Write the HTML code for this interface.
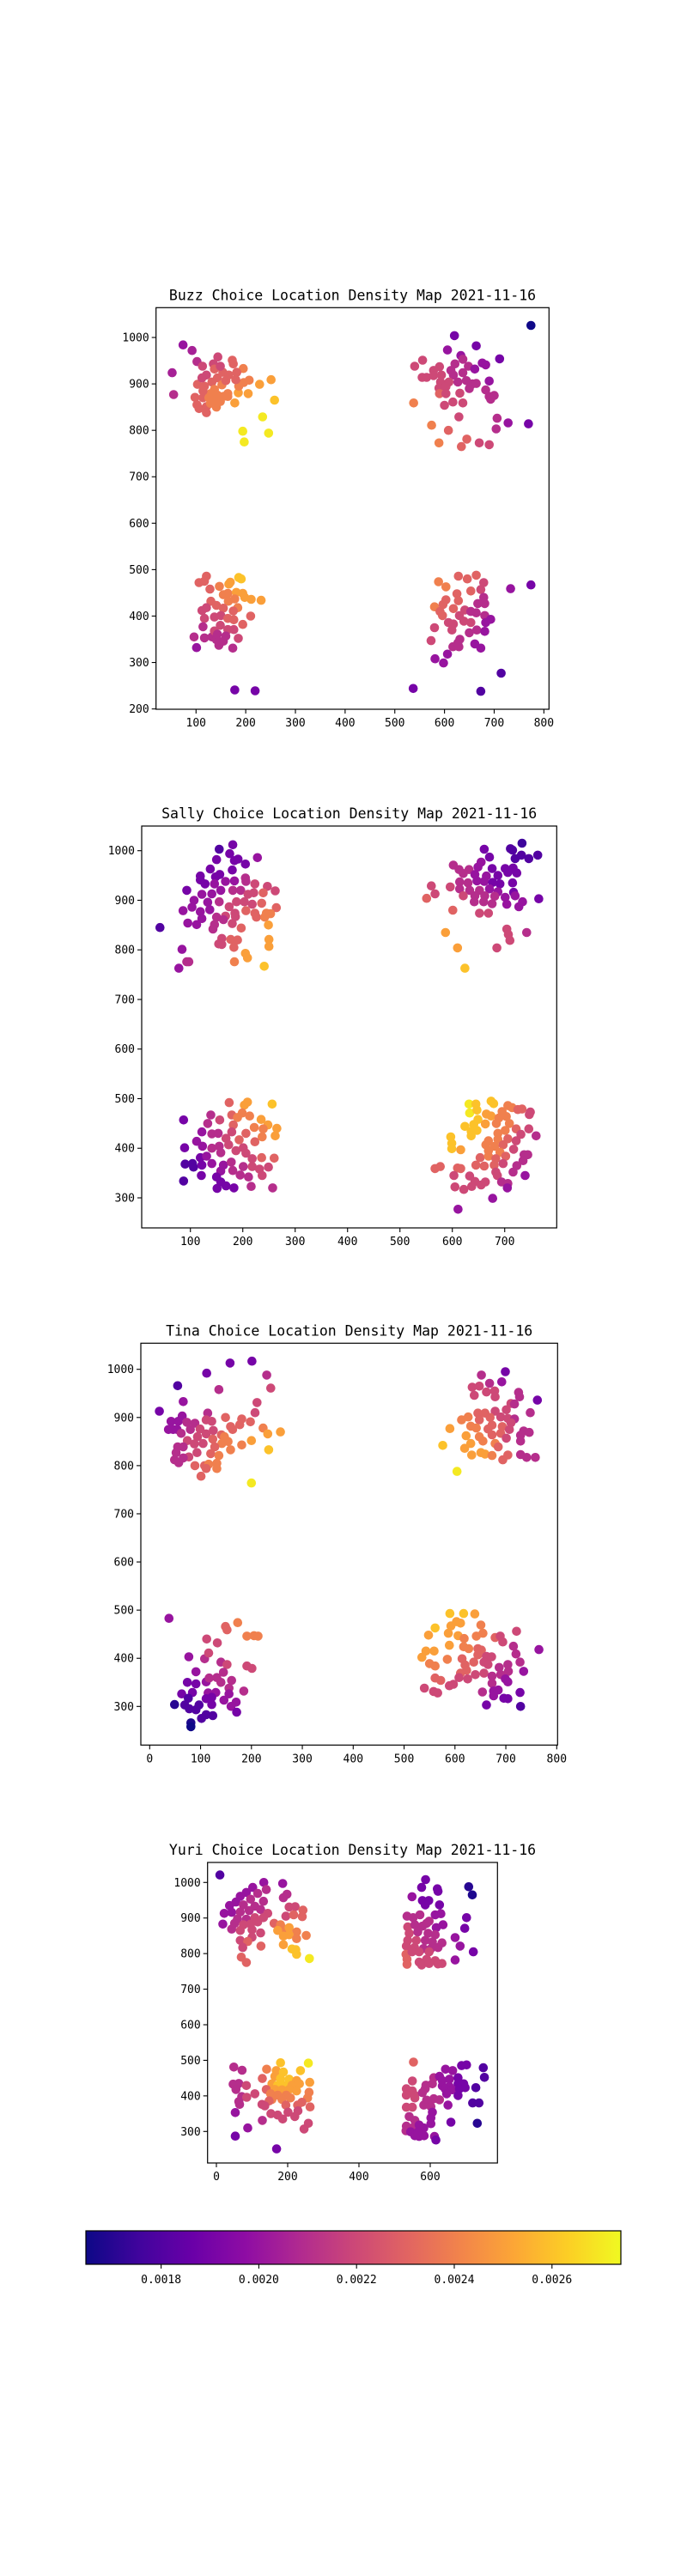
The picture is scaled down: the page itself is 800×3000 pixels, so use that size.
<!DOCTYPE html>
<html><head><meta charset="utf-8"><title>Choice Location Density Maps</title>
<style>
html,body{margin:0;padding:0;background:#fff;}
svg{display:block;font-family:"DejaVu Sans Mono","Liberation Mono",monospace;}
</style></head>
<body>
<svg id="fig" width="800" height="3000" viewBox="0 0 800 3000" xmlns="http://www.w3.org/2000/svg">
<defs>
<linearGradient id="plasma" x1="0" x2="1" y1="0" y2="0">
<stop offset="0" stop-color="#0d0887"/><stop offset="0.1" stop-color="#41049d"/><stop offset="0.2" stop-color="#6a00a8"/><stop offset="0.3" stop-color="#8f0da4"/><stop offset="0.4" stop-color="#b12a90"/><stop offset="0.5" stop-color="#cc4778"/><stop offset="0.6" stop-color="#e16462"/><stop offset="0.7" stop-color="#f2844b"/><stop offset="0.8" stop-color="#fca636"/><stop offset="0.9" stop-color="#fcce25"/><stop offset="1" stop-color="#f0f921"/>
</linearGradient>
</defs>
</svg>
<script>
// ---- data: [x, y, density] ----
const buzzPoints = [
[74,984,0.00200],[92,972,0.00205],[52,924,0.00205],[55,877,0.0021],[102,948,0.0021],[113,938,0.0022],[144,958,0.0022],[173,951,0.0023],[175,943,0.0023],[135,943,0.0022],[195,933,0.0024],[182,925,0.0023],[121,919,0.0022],[103,899,0.0023],[98,871,0.0023],[102,855,0.0023],[106,847,0.0023],[121,851,0.0023],[121,838,0.0023],[141,850,0.0024],[149,862,0.0024],[178,859,0.0025],[164,879,0.0024],[185,881,0.0025],[205,879,0.0025],[186,895,0.0024],[196,903,0.0024],[207,908,0.0024],[228,899,0.0025],[251,909,0.0025],[258,865,0.0026],[234,829,0.0027],[194,798,0.0027],[246,794,0.0027],[197,775,0.0027],[180,909,0.0023],
[117,895,0.0023],[132,904,0.0023],[143,913,0.0023],[154,925,0.0023],[137,888,0.0024],[152,898,0.0024],[129,879,0.0024],[160,907,0.0023],[166,919,0.0023],[143,876,0.0024],[114,870,0.0023],[126,870,0.0024],[155,873,0.0024],[137,932,0.0023],[149,938,0.0022],[112,913,0.0022],[164,873,0.0024],[135,864,0.0024],[114,885,0.0023],[129,858,0.0024],
[121,486,0.0023],[106,472,0.0023],[117,475,0.0023],[128,458,0.0023],[147,464,0.0024],[166,469,0.0025],[169,473,0.0025],[186,483,0.0026],[191,480,0.0026],[155,446,0.0024],[164,449,0.0024],[181,451,0.0025],[194,449,0.0025],[198,440,0.0025],[211,436,0.0025],[231,434,0.0025],[130,432,0.0023],[141,423,0.0023],[165,432,0.0024],[178,437,0.0024],[184,418,0.0024],[112,412,0.0022],[121,418,0.0022],[155,417,0.0023],[175,411,0.0023],[210,400,0.0023],[117,395,0.0022],[137,398,0.0022],[150,401,0.0022],[164,395,0.0023],[176,392,0.0023],[114,377,0.0021],[149,380,0.0022],[194,382,0.0023],[164,371,0.0022],[176,371,0.0022],[96,355,0.0021],[117,353,0.0021],[132,355,0.0021],[141,349,0.0021],[155,346,0.0021],[185,352,0.0022],[101,332,0.0020],[146,337,0.0021],[174,331,0.0021],[137,368,0.0022],[143,361,0.0021],[178,241,0.0019],[219,239,0.0019],[160,357,0.0021],
[774,1026,0.00165],[620,1004,0.0019],[664,982,0.0019],[606,973,0.0020],[711,954,0.0019],[633,961,0.0020],[556,951,0.0022],[540,938,0.0022],[590,937,0.0022],[621,943,0.0021],[676,945,0.0020],[683,941,0.0020],[648,938,0.0021],[637,953,0.0021],[661,932,0.0020],[578,929,0.0022],[613,929,0.0021],[555,914,0.0022],[564,914,0.0022],[578,918,0.0022],[594,919,0.0022],[637,924,0.0021],[618,919,0.0021],[592,904,0.0022],[609,904,0.0022],[627,904,0.0021],[644,907,0.0021],[656,900,0.0021],[664,901,0.0021],[690,906,0.0020],[650,890,0.0021],[589,891,0.0022],[603,894,0.0022],[683,887,0.0021],[590,879,0.0023],[603,879,0.0022],[631,880,0.0022],[690,873,0.0021],[700,875,0.0021],[693,867,0.0021],[538,859,0.0024],[600,854,0.0022],[617,861,0.0022],[637,859,0.0022],[629,829,0.0022],[706,826,0.0021],[728,816,0.0020],[769,814,0.0019],[704,803,0.0021],[574,811,0.0024],[608,800,0.0023],[645,781,0.0023],[589,773,0.0024],[634,765,0.0023],[670,773,0.0022],[690,769,0.0022],
[774,467,0.0019],[733,459,0.0020],[628,486,0.0023],[664,488,0.0023],[646,480,0.0023],[588,474,0.0024],[679,472,0.0022],[603,463,0.0024],[673,457,0.0022],[653,454,0.0023],[625,448,0.0023],[679,440,0.0021],[603,435,0.0023],[628,433,0.0023],[580,420,0.0024],[597,425,0.0023],[667,427,0.0021],[681,427,0.0021],[591,410,0.0023],[618,416,0.0023],[641,413,0.0022],[653,410,0.0021],[596,401,0.0023],[630,401,0.0022],[664,407,0.0021],[681,401,0.0021],[693,393,0.0020],[608,386,0.0022],[618,383,0.0022],[639,389,0.0022],[653,386,0.0022],[683,386,0.0020],[580,375,0.0022],[615,370,0.0022],[650,364,0.0021],[665,370,0.0021],[681,367,0.0020],[573,347,0.0022],[631,350,0.0021],[617,334,0.0021],[629,334,0.0021],[661,340,0.0020],[673,331,0.0020],[581,308,0.0020],[606,318,0.0020],[598,299,0.0020],[714,277,0.0018],[673,238,0.0018],[537,244,0.0019],[627,342,0.0021]
];
const sallyPoints = [
[42,845,0.0018],[155,1003,0.0018],[181,1012,0.0019],[175,994,0.0019],[150,982,0.0019],[184,980,0.0019],[191,983,0.0019],[228,986,0.0020],[205,973,0.0019],[138,963,0.0019],[180,961,0.0019],[119,949,0.0019],[119,941,0.0019],[148,947,0.0019],[156,952,0.0019],[128,933,0.0019],[93,920,0.0019],[146,933,0.0020],[167,938,0.0020],[184,939,0.0020],[205,945,0.0021],[206,938,0.0021],[223,933,0.0022],[247,928,0.0022],[262,919,0.0022],[122,912,0.0020],[141,913,0.0020],[158,920,0.0020],[181,920,0.0021],[196,920,0.0021],[210,912,0.0022],[221,915,0.0022],[239,915,0.0023],[107,900,0.0020],[103,886,0.0020],[86,879,0.0020],[133,896,0.0020],[155,897,0.0021],[174,887,0.0022],[188,897,0.0022],[203,897,0.0022],[218,892,0.0022],[236,894,0.0023],[264,885,0.0023],[119,877,0.0020],[137,881,0.0020],[185,874,0.0022],[206,879,0.0023],[223,874,0.0023],[245,874,0.0024],[253,873,0.0024],[122,863,0.0020],[150,866,0.0021],[167,868,0.0022],[186,867,0.0022],[226,866,0.0023],[242,866,0.0024],[95,854,0.0020],[112,851,0.0020],[146,851,0.0021],[163,861,0.0021],[180,853,0.0022],[249,850,0.0025],[197,844,0.0023],[143,842,0.0021],[160,823,0.0022],[154,812,0.0022],[160,811,0.0022],[177,821,0.0023],[190,820,0.0023],[183,805,0.0023],[250,821,0.0025],[250,807,0.0025],[205,793,0.0025],[209,784,0.0025],[184,776,0.0024],[241,767,0.0026],[84,801,0.0020],[93,776,0.0021],[97,776,0.0021],[78,763,0.0020],
[209,493,0.0025],[174,492,0.0023],[203,487,0.0025],[256,489,0.0026],[199,471,0.0024],[213,465,0.0024],[179,467,0.0023],[139,467,0.0021],[87,457,0.0019],[156,457,0.0022],[190,462,0.0024],[133,450,0.0021],[182,447,0.0023],[235,458,0.0025],[248,447,0.0025],[222,442,0.0024],[239,439,0.0024],[265,440,0.0025],[122,433,0.0020],[141,429,0.0021],[153,430,0.0021],[179,433,0.0022],[206,430,0.0023],[262,425,0.0025],[237,423,0.0024],[112,414,0.0020],[168,420,0.0022],[193,417,0.0023],[223,413,0.0023],[89,401,0.0019],[123,404,0.0020],[141,400,0.0021],[155,404,0.0021],[173,407,0.0022],[201,401,0.0022],[187,395,0.0022],[158,391,0.0021],[206,390,0.0022],[218,379,0.0022],[236,381,0.0023],[260,380,0.0023],[119,381,0.0019],[131,384,0.0020],[90,368,0.0018],[104,369,0.0018],[106,362,0.0018],[122,366,0.0019],[141,369,0.0020],[163,366,0.0020],[178,372,0.0021],[201,363,0.0021],[218,363,0.0022],[232,358,0.0022],[249,362,0.0022],[158,354,0.0020],[181,355,0.0021],[121,345,0.0019],[150,342,0.0019],[195,346,0.0021],[211,342,0.0021],[237,345,0.0022],[87,334,0.0018],[158,332,0.0019],[168,324,0.0019],[151,319,0.0019],[183,320,0.0019],[216,323,0.0021],[257,320,0.0021],
[733,1015,0.00175],[711,1004,0.0018],[715,1001,0.0018],[661,1003,0.0019],[763,991,0.0018],[732,991,0.0018],[720,984,0.0018],[746,984,0.0018],[671,987,0.0019],[655,977,0.0020],[602,971,0.0021],[613,962,0.0021],[632,962,0.0021],[649,967,0.0020],[676,964,0.0019],[701,964,0.0019],[716,965,0.0019],[723,955,0.0019],[621,954,0.0021],[643,952,0.0020],[665,949,0.0020],[687,950,0.0019],[706,956,0.0019],[560,929,0.0022],[596,927,0.0022],[614,937,0.0021],[630,935,0.0021],[647,939,0.0020],[661,938,0.0020],[677,936,0.0019],[691,933,0.0019],[715,935,0.0019],[614,923,0.0021],[633,920,0.0021],[652,920,0.0021],[671,923,0.0020],[687,917,0.0020],[717,916,0.0019],[567,913,0.0022],[551,904,0.0023],[621,909,0.0022],[643,909,0.0021],[662,909,0.0021],[681,908,0.0021],[701,906,0.0020],[720,909,0.0020],[765,903,0.0019],[642,897,0.0021],[660,897,0.0021],[676,893,0.0021],[704,892,0.0020],[734,897,0.0020],[601,880,0.0023],[652,874,0.0022],[669,874,0.0022],[727,887,0.0020],[587,835,0.0025],[704,842,0.0022],[707,831,0.0022],[710,819,0.0022],[742,835,0.0021],[610,804,0.0025],[685,804,0.0022],[624,763,0.0026],
[632,489,0.0027],[645,489,0.0026],[674,495,0.0026],[679,490,0.0026],[706,486,0.0024],[714,482,0.0024],[725,478,0.0023],[733,479,0.0023],[749,473,0.0022],[747,468,0.0022],[633,471,0.0027],[647,477,0.0026],[665,469,0.0025],[674,465,0.0025],[695,474,0.0024],[689,461,0.0024],[703,464,0.0024],[649,458,0.0026],[624,444,0.0026],[641,448,0.0026],[663,449,0.0025],[684,450,0.0024],[709,450,0.0024],[722,439,0.0023],[746,439,0.0022],[636,434,0.0026],[647,436,0.0026],[687,430,0.0024],[701,436,0.0024],[731,428,0.0022],[760,425,0.0021],[597,423,0.0026],[636,425,0.0026],[669,415,0.0024],[687,418,0.0024],[706,419,0.0023],[722,415,0.0022],[599,410,0.0026],[664,407,0.0024],[681,404,0.0024],[697,407,0.0023],[599,399,0.0026],[616,397,0.0025],[669,395,0.0024],[691,392,0.0024],[717,398,0.0022],[653,381,0.0023],[669,384,0.0024],[683,379,0.0023],[702,384,0.0023],[737,387,0.0021],[744,387,0.0021],[645,366,0.0023],[661,364,0.0023],[680,366,0.0023],[697,369,0.0022],[723,365,0.0021],[735,375,0.0021],[567,359,0.0023],[577,363,0.0023],[610,360,0.0023],[616,359,0.0023],[683,352,0.0022],[686,345,0.0022],[716,352,0.0021],[739,345,0.0020],[603,345,0.0022],[633,344,0.0022],[643,333,0.0022],[655,326,0.0022],[663,332,0.0022],[694,332,0.0021],[706,329,0.0021],[705,320,0.0020],[605,322,0.0022],[622,317,0.0022],[637,323,0.0022],[677,299,0.0020],[611,277,0.0020]
];
const tinaPoints = [
[19,913,0.0019],[55,966,0.0018],[112,992,0.0019],[158,1013,0.0019],[201,1017,0.0019],[230,988,0.0021],[238,961,0.0022],[136,958,0.0021],[66,933,0.0020],[211,931,0.0022],[207,910,0.0022],[114,909,0.0021],[64,903,0.0020],[42,892,0.0020],[56,892,0.0020],[37,875,0.0020],[46,875,0.0020],[54,875,0.0020],[73,890,0.0021],[89,888,0.0021],[111,895,0.0022],[122,892,0.0022],[149,900,0.0023],[181,897,0.0023],[198,891,0.0023],[177,885,0.0023],[159,881,0.0023],[163,875,0.0023],[223,878,0.0024],[232,866,0.0025],[257,870,0.0025],[62,867,0.0021],[80,875,0.0021],[99,876,0.0022],[125,873,0.0022],[141,864,0.0023],[147,860,0.0024],[74,852,0.0022],[94,860,0.0022],[111,866,0.0022],[124,855,0.0023],[154,850,0.0024],[142,846,0.0024],[181,843,0.0024],[200,852,0.0025],[55,839,0.0021],[66,839,0.0021],[88,845,0.0022],[105,846,0.0022],[128,839,0.0023],[159,833,0.0024],[234,833,0.0026],[52,827,0.0021],[77,818,0.0022],[93,827,0.0022],[120,825,0.0023],[136,821,0.0024],[49,812,0.0021],[57,806,0.0021],[66,816,0.0021],[132,805,0.0024],[89,800,0.0023],[108,800,0.0023],[116,803,0.0024],[132,794,0.0024],[111,794,0.0023],[101,778,0.0023],[200,764,0.0027],
[38,483,0.0020],[173,474,0.0024],[149,466,0.0023],[152,459,0.0023],[191,446,0.0024],[205,447,0.0024],[213,446,0.0024],[112,440,0.0022],[133,432,0.0022],[77,403,0.0020],[108,399,0.0021],[116,411,0.0022],[140,392,0.0021],[152,387,0.0022],[191,384,0.0022],[201,379,0.0022],[91,372,0.0020],[145,371,0.0021],[74,350,0.0019],[91,347,0.0019],[111,351,0.0020],[117,359,0.0021],[132,360,0.0021],[140,350,0.0021],[161,354,0.0021],[63,326,0.0019],[84,329,0.0019],[115,328,0.0020],[130,329,0.0020],[156,338,0.0021],[185,332,0.0021],[76,317,0.0018],[111,316,0.0019],[122,319,0.0019],[146,313,0.0020],[156,326,0.0020],[170,309,0.0020],[49,304,0.0017],[69,303,0.0018],[78,295,0.0018],[91,293,0.0018],[97,303,0.0018],[122,304,0.0019],[160,300,0.0020],[171,288,0.0019],[102,275,0.0018],[111,283,0.0018],[124,281,0.0018],[81,266,0.00168],[81,258,0.00165],
[699,995,0.0019],[652,988,0.0021],[692,974,0.0020],[668,971,0.0021],[634,963,0.0022],[648,965,0.0022],[638,946,0.0022],[662,953,0.0022],[678,955,0.0022],[679,943,0.0022],[725,952,0.0021],[727,943,0.0021],[762,936,0.0019],[710,929,0.0022],[717,928,0.0021],[748,910,0.0021],[645,909,0.0023],[659,909,0.0023],[679,913,0.0022],[701,916,0.0022],[613,895,0.0024],[626,901,0.0024],[648,895,0.0023],[669,900,0.0023],[690,901,0.0022],[704,898,0.0022],[717,897,0.0021],[710,889,0.0022],[590,877,0.0025],[631,882,0.0024],[642,878,0.0024],[665,876,0.0023],[673,884,0.0023],[693,881,0.0023],[707,875,0.0022],[735,872,0.0021],[746,869,0.0021],[622,862,0.0025],[648,860,0.0024],[673,864,0.0023],[690,867,0.0023],[701,857,0.0022],[729,863,0.0021],[729,851,0.0021],[576,842,0.0026],[631,846,0.0025],[655,851,0.0024],[679,846,0.0024],[685,839,0.0023],[619,836,0.0025],[651,827,0.0025],[659,824,0.0025],[673,821,0.0024],[633,822,0.0025],[704,822,0.0023],[729,823,0.0021],[741,817,0.0021],[758,817,0.0021],[694,812,0.0023],[604,788,0.0027],
[590,493,0.0026],[617,493,0.0026],[639,492,0.0025],[603,476,0.0025],[611,473,0.0025],[651,469,0.0024],[592,467,0.0025],[561,463,0.0026],[721,456,0.0022],[548,448,0.0025],[587,452,0.0025],[606,447,0.0025],[618,441,0.0024],[642,446,0.0024],[655,452,0.0024],[679,443,0.0023],[689,446,0.0022],[694,434,0.0022],[765,418,0.0020],[715,425,0.0021],[589,427,0.0025],[617,424,0.0024],[627,420,0.0024],[645,420,0.0023],[652,417,0.0023],[543,415,0.0025],[559,415,0.0025],[720,409,0.0021],[535,402,0.0025],[585,398,0.0024],[614,399,0.0023],[645,407,0.0023],[662,404,0.0022],[672,403,0.0022],[728,392,0.0021],[550,389,0.0024],[561,384,0.0024],[620,386,0.0023],[637,392,0.0023],[657,392,0.0022],[665,387,0.0022],[704,387,0.0021],[623,375,0.0023],[687,381,0.0021],[705,373,0.0021],[735,373,0.0020],[611,369,0.0023],[640,366,0.0022],[657,369,0.0022],[673,363,0.0021],[690,366,0.0021],[561,359,0.0023],[572,354,0.0023],[608,360,0.0022],[625,357,0.0022],[699,357,0.0020],[704,351,0.0020],[673,348,0.0021],[540,338,0.0022],[589,343,0.0022],[597,346,0.0022],[558,331,0.0022],[566,328,0.0022],[654,330,0.0021],[676,332,0.0020],[685,334,0.0020],[728,329,0.0019],[676,322,0.0020],[696,317,0.0019],[704,316,0.0019],[662,303,0.0019],[729,300,0.0018]
];
const yuriPoints = [
[10,1021,0.0018],[133,1000,0.0020],[186,997,0.0020],[102,986,0.0020],[140,980,0.0021],[84,972,0.0020],[116,969,0.0021],[67,961,0.0020],[198,967,0.0021],[188,957,0.0021],[96,953,0.0021],[132,947,0.0021],[55,945,0.0020],[37,935,0.0020],[76,937,0.0021],[108,933,0.0021],[204,931,0.0022],[221,932,0.0022],[243,922,0.0023],[22,913,0.0020],[43,916,0.0020],[67,917,0.0021],[92,921,0.0021],[124,924,0.0021],[144,913,0.0022],[195,905,0.0022],[217,909,0.0023],[241,904,0.0023],[59,897,0.0021],[84,897,0.0021],[108,901,0.0022],[132,901,0.0022],[18,883,0.0020],[51,885,0.0021],[76,881,0.0022],[96,883,0.0022],[162,885,0.0023],[116,889,0.0022],[180,881,0.0024],[43,869,0.0021],[67,865,0.0022],[100,867,0.0022],[188,869,0.0024],[204,873,0.0025],[225,861,0.0024],[204,853,0.0025],[188,849,0.0025],[252,851,0.0024],[100,846,0.0022],[124,858,0.0022],[225,842,0.0024],[67,837,0.0022],[88,834,0.0023],[74,817,0.0022],[125,821,0.0023],[188,825,0.0025],[212,813,0.0026],[223,811,0.0026],[225,798,0.0026],[70,790,0.0023],[84,775,0.0023],[261,786,0.0027],[172,865,0.0025],
[180,493,0.0026],[258,492,0.0027],[49,481,0.0021],[72,472,0.0021],[141,475,0.0024],[168,471,0.0025],[188,467,0.0026],[236,471,0.0026],[129,449,0.0023],[164,455,0.0025],[180,449,0.0026],[204,447,0.0026],[225,443,0.0025],[47,433,0.0021],[63,435,0.0021],[84,429,0.0022],[156,434,0.0025],[172,430,0.0026],[188,430,0.0026],[212,430,0.0025],[233,434,0.0025],[262,438,0.0025],[55,418,0.0021],[140,418,0.0023],[164,418,0.0025],[184,417,0.0025],[204,418,0.0025],[225,414,0.0025],[108,406,0.0022],[152,406,0.0024],[172,402,0.0024],[196,402,0.0024],[260,410,0.0024],[71,398,0.0021],[85,396,0.0022],[156,390,0.0024],[184,390,0.0024],[208,394,0.0024],[256,394,0.0024],[63,384,0.0021],[148,386,0.0023],[195,374,0.0023],[240,382,0.0023],[65,376,0.0021],[128,376,0.0022],[136,372,0.0022],[228,374,0.0023],[263,369,0.0023],[201,354,0.0022],[229,358,0.0022],[53,353,0.0020],[153,350,0.0022],[172,346,0.0022],[186,335,0.0022],[220,342,0.0022],[129,331,0.0021],[258,323,0.0022],[246,307,0.0022],[88,310,0.0020],[53,287,0.0019],[169,251,0.0019],
[587,1008,0.0019],[708,988,0.0017],[718,965,0.00168],[576,986,0.0019],[620,982,0.0019],[622,975,0.0019],[549,960,0.0020],[578,949,0.0019],[596,949,0.0019],[586,937,0.0019],[626,937,0.0019],[630,912,0.0020],[614,909,0.0020],[702,901,0.0019],[535,905,0.0021],[552,901,0.0021],[571,909,0.0021],[597,891,0.0021],[636,881,0.0020],[617,873,0.0020],[697,871,0.0019],[537,875,0.0022],[557,881,0.0021],[578,877,0.0021],[590,885,0.0021],[670,845,0.0020],[541,857,0.0022],[565,861,0.0021],[594,857,0.0021],[614,853,0.0021],[684,821,0.0020],[537,837,0.0022],[561,837,0.0022],[586,837,0.0021],[606,833,0.0021],[633,830,0.0021],[721,805,0.0019],[533,821,0.0022],[556,817,0.0022],[581,814,0.0021],[601,813,0.0021],[622,817,0.0021],[532,798,0.0023],[549,805,0.0022],[569,805,0.0022],[597,805,0.0022],[670,782,0.0020],[535,784,0.0023],[569,776,0.0022],[590,784,0.0022],[614,780,0.0022],[633,772,0.0022],[535,770,0.0023],[576,768,0.0022],[597,772,0.0022],[622,771,0.0022],
[553,495,0.0023],[688,485,0.0019],[702,487,0.0019],[749,479,0.0018],[752,452,0.0018],[643,475,0.0020],[663,471,0.0020],[610,451,0.0021],[550,442,0.0022],[626,455,0.0020],[634,443,0.0020],[654,447,0.0020],[678,451,0.0019],[588,430,0.0021],[606,434,0.0021],[634,428,0.0020],[654,426,0.0020],[678,434,0.0019],[694,434,0.0019],[533,420,0.0022],[550,414,0.0022],[586,420,0.0021],[642,420,0.0020],[662,417,0.0020],[682,420,0.0019],[698,423,0.0019],[728,423,0.0018],[533,402,0.0022],[557,401,0.0022],[578,409,0.0021],[646,406,0.0020],[678,401,0.0019],[557,394,0.0022],[590,388,0.0021],[610,392,0.0021],[626,389,0.0021],[719,380,0.0018],[737,380,0.0018],[582,374,0.0021],[602,370,0.0021],[650,374,0.0020],[533,368,0.0022],[550,368,0.0022],[606,354,0.0020],[541,342,0.0021],[557,331,0.0021],[602,338,0.0020],[658,326,0.0019],[732,323,0.0017],[602,322,0.0020],[533,315,0.0021],[550,310,0.0021],[569,318,0.0020],[582,310,0.0020],[532,302,0.0021],[545,299,0.0020],[557,288,0.0020],[569,286,0.0020],[583,288,0.0020],[565,298,0.0020],[612,286,0.0020],[616,276,0.0019]
];
const plotTitles = ["Buzz Choice Location Density Map 2021-11-16","Sally Choice Location Density Map 2021-11-16","Tina Choice Location Density Map 2021-11-16","Yuri Choice Location Density Map 2021-11-16"];
const buzzXTicks = [100,200,300,400,500,600,700,800];
const buzzYTicks = [200,300,400,500,600,700,800,900,1000];
const sallyXTicks = [100,200,300,400,500,600,700];
const sallyYTicks = [300,400,500,600,700,800,900,1000];
const tinaXTicks = [0,100,200,300,400,500,600,700,800];
const tinaYTicks = [300,400,500,600,700,800,900,1000];
const yuriXTicks = [0,200,400,600];
const yuriYTicks = [300,400,500,600,700,800,900,1000];
const colorbarTicks = [0.0018,0.0020,0.0022,0.0024,0.0026];
const colorDomain = [0.001646,0.002741];

// ---- layout (pixel boxes & domains) ----
const panels = [
 {key:'buzz', pts:buzzPoints, xt:buzzXTicks, yt:buzzYTicks, L:181.7,R:639.3,T:358.3,B:826, xd:[19.5,810.3], yd:[199.3,1064.2]},
 {key:'sally',pts:sallyPoints,xt:sallyXTicks,yt:sallyYTicks,L:165,R:648.3,T:962,B:1430, xd:[7.0,799.3], yd:[239.4,1049.7]},
 {key:'tina', pts:tinaPoints, xt:tinaXTicks, yt:tinaYTicks, L:164,R:649.3,T:1564.3,B:2032.3, xd:[-17.4,801.7], yd:[219.8,1054.2]},
 {key:'yuri', pts:yuriPoints, xt:yuriXTicks, yt:yuriYTicks, L:241.7,R:579.3,T:2169,B:2519, xd:[-24.8,788.7], yd:[211.4,1056.2]}
];
const stops = [[13,8,135],[65,4,157],[106,0,168],[143,13,164],[177,42,144],[204,71,120],[225,100,98],[242,132,75],[252,166,54],[252,206,37],[240,249,33]];
function plasma(t){
  t=Math.max(0,Math.min(1,t));
  const f=t*10, i=Math.min(9,Math.floor(f)), u=f-i;
  const a=stops[i], b=stops[i+1];
  return 'rgb('+[0,1,2].map(k=>Math.round(a[k]+(b[k]-a[k])*u)).join(',')+')';
}
function colorOf(v){return plasma((v-colorDomain[0])/(colorDomain[1]-colorDomain[0]));}
const NS='http://www.w3.org/2000/svg';
const svg=document.getElementById('fig');
function mk(tag,attrs,parent){const e=document.createElementNS(NS,tag);for(const k in attrs)e.setAttribute(k,attrs[k]);(parent||svg).appendChild(e);return e;}

panels.forEach((p,pi)=>{
  const sx=x=>p.L+(x-p.xd[0])/(p.xd[1]-p.xd[0])*(p.R-p.L);
  const sy=y=>p.B-(y-p.yd[0])/(p.yd[1]-p.yd[0])*(p.B-p.T);
  const g=mk('g',{});
  
  
  const title=mk('text',{x:(p.L+p.R)/2,y:p.T-9,'text-anchor':'middle','font-size':'16.5',fill:'#000'},g);
  
  
  title.textContent=plotTitles[pi];
  const pts=mk('g',{},g);
  
  
  p.pts.forEach(d=>{
    const c=mk('circle',{cx:sx(d[0]).toFixed(1),cy:sy(d[1]).toFixed(1),r:5.3,fill:colorOf(d[2])},pts);
    
    
  });
  const frame=mk('rect',{x:p.L,y:p.T,width:p.R-p.L,height:p.B-p.T,fill:'none',stroke:'#000','stroke-width':1.2},g);
  
  
  const xa=mk('g',{},g);
  
  
  p.xt.forEach(t=>{
    const x=sx(t);
    mk('line',{x1:x,x2:x,y1:p.B,y2:p.B+5,stroke:'#000','stroke-width':1.1},xa);
    const tx=mk('text',{x:x,y:p.B+20,'text-anchor':'middle','font-size':'13',fill:'#000'},xa);
    
    
    tx.textContent=t;
  });
  const ya=mk('g',{},g);
  
  
  p.yt.forEach(t=>{
    const y=sy(t);
    mk('line',{x1:p.L-5,x2:p.L,y1:y,y2:y,stroke:'#000','stroke-width':1.1},ya);
    const tx=mk('text',{x:p.L-8,y:y+4.5,'text-anchor':'end','font-size':'13',fill:'#000'},ya);
    
    
    tx.textContent=t;
  });
});

// ---- colorbar ----
const cb={L:100,R:723,T:2598,B:2637};
const cbg=mk('g',{});


const cbr=mk('rect',{x:cb.L,y:cb.T,width:cb.R-cb.L,height:cb.B-cb.T,fill:'url(#plasma)',stroke:'#000','stroke-width':1.2},cbg);


const cx=v=>cb.L+(v-colorDomain[0])/(colorDomain[1]-colorDomain[0])*(cb.R-cb.L);
colorbarTicks.forEach(t=>{
  const x=cx(t);
  mk('line',{x1:x,x2:x,y1:cb.B,y2:cb.B+5,stroke:'#000','stroke-width':1.1},cbg);
  const tx=mk('text',{x:x,y:cb.B+22,'text-anchor':'middle','font-size':'13',fill:'#000'},cbg);
  
  
  tx.textContent=t.toFixed(4);
});
</script>
</body></html>
